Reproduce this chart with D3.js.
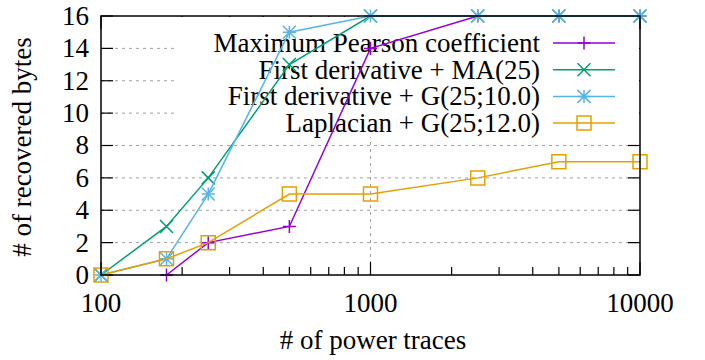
<!DOCTYPE html>
<html>
<head>
<meta charset="utf-8">
<script src="https://cdn.jsdelivr.net/npm/d3@7"></script>
<style>
  body { margin: 0; background: white; }
</style>
</head>
<body>
<svg id="chart" width="705" height="360"></svg>
<script>
const traces = [100, 175, 250, 500, 1000, 2500, 5000, 10000]
const pearson = [null, 0, 2, 3, 14, 16, 16, 16]
const firstMA = [0, 3, 6, 13, 16, 16, 16, 16]
const firstG = [0, 1, 5, 15, 16, 16, 16, 16]
const laplacian = [0, 1, 2, 5, 5, 6, 7, 7]
const seriesNames = ["Maximum Pearson coefficient", "First derivative + MA(25)", "First derivative + G(25;10.0)", "Laplacian + G(25;12.0)"]
const yTicks = [0, 2, 4, 6, 8, 10, 12, 14, 16]
const xTicks = [100, 1000, 10000]

const series = [
  {name: seriesNames[0], values: pearson, color: "#9400d3", marker: "plus"},
  {name: seriesNames[1], values: firstMA, color: "#009e73", marker: "cross"},
  {name: seriesNames[2], values: firstG, color: "#56b4e9", marker: "star"},
  {name: seriesNames[3], values: laplacian, color: "#e69f00", marker: "square"}
]

const svg = d3.select("#chart")
const mLeft = 101, mRight = 640, mTop = 16, mBottom = 275
const font = "'Liberation Serif', 'Times New Roman', serif"
const fs = "27px"

const x = d3.scaleLog().domain([100, 10000]).range([mLeft, mRight])
const y = d3.scaleLinear().domain([0, 16]).range([mBottom, mTop])

// grille
const grid = svg.append("g")
grid.selectAll("line.h")
  .data(yTicks.filter(v => v > 0 && v < 16))
  .join("line")
  .attr("x1", mLeft).attr("x2", mRight)
  .attr("y1", d => y(d)).attr("y2", d => y(d))
  .attr("stroke", "#a0a0a0").attr("stroke-width", 1).attr("stroke-dasharray", "3,4")
grid.selectAll("line.v")
  .data([1000])
  .join("line")
  .attr("x1", d => x(d)).attr("x2", d => x(d))
  .attr("y1", mTop).attr("y2", mBottom)
  .attr("stroke", "#a0a0a0").attr("stroke-width", 1).attr("stroke-dasharray", "3,4")

// graduations
const ticks = svg.append("g").attr("stroke", "black").attr("stroke-width", 1.2)
yTicks.forEach(v => {
  ticks.append("line").attr("x1", mLeft).attr("x2", mLeft + 12).attr("y1", y(v)).attr("y2", y(v))
  ticks.append("line").attr("x1", mRight - 12).attr("x2", mRight).attr("y1", y(v)).attr("y2", y(v))
})
const minor = []
for (let dec = 100; dec < 10000; dec *= 10)
  for (let k = 2; k <= 9; k++) minor.push(dec * k)
minor.forEach(v => {
  ticks.append("line").attr("x1", x(v)).attr("x2", x(v)).attr("y1", mBottom).attr("y2", mBottom - 8)
  ticks.append("line").attr("x1", x(v)).attr("x2", x(v)).attr("y1", mTop).attr("y2", mTop + 8)
})
xTicks.forEach(v => {
  ticks.append("line").attr("x1", x(v)).attr("x2", x(v)).attr("y1", mBottom).attr("y2", mBottom - 13)
  ticks.append("line").attr("x1", x(v)).attr("x2", x(v)).attr("y1", mTop).attr("y2", mTop + 13)
})

svg.append("g").selectAll("text")
  .data(yTicks)
  .join("text")
  .attr("x", 89).attr("y", d => y(d)).attr("dy", "0.33em")
  .attr("text-anchor", "end")
  .style("font-family", font).style("font-size", fs)
  .text(d => d)

svg.append("g").selectAll("text")
  .data(xTicks)
  .join("text")
  .attr("x", d => x(d)).attr("y", 312)
  .attr("text-anchor", "middle")
  .style("font-family", font).style("font-size", fs)
  .text(d => d)

svg.append("text").attr("x", 373).attr("y", 349)
  .attr("text-anchor", "middle")
  .style("font-family", font).style("font-size", fs)
  .text("# of power traces")
svg.append("text")
  .attr("transform", "translate(31," + 147 + ") rotate(-90)")
  .attr("text-anchor", "middle")
  .style("font-family", font).style("font-size", fs)
  .text("# of recovered bytes")

// marqueurs
const markerPath = (type, s) => {
  const h = s / 2
  if (type === "plus") return `M${-h},0H${h}M0,${-h}V${h}`
  if (type === "cross") return `M${-h},${-h}L${h},${h}M${-h},${h}L${h},${-h}`
  if (type === "star") return `M${-h},0H${h}M0,${-h}V${h}M${-h},${-h}L${h},${h}M${-h},${h}L${h},${-h}`
  return `M${-h},${-h}H${h}V${h}H${-h}Z`
}

// légende
const legend = svg.append("g")
legend.append("rect").attr("x", 178).attr("y", mTop + 1).attr("width", mRight - 179).attr("height", 120).attr("fill", "white")
series.forEach((s, i) => {
  const ly = 43 + i * 26.7
  legend.append("text").attr("x", 540).attr("y", ly).attr("dy", "0.33em")
    .attr("text-anchor", "end")
    .style("font-family", font).style("font-size", fs).text(s.name)
  legend.append("line").attr("x1", 553).attr("x2", 615).attr("y1", ly).attr("y2", ly)
    .attr("stroke", s.color).attr("stroke-width", 1.5)
  legend.append("path").attr("d", markerPath(s.marker, s.marker === "square" ? 14 : 13))
    .attr("transform", `translate(584,${ly})`)
    .attr("fill", "none").attr("stroke", s.color).attr("stroke-width", 1.5)
})

// courbes
const line = d3.line()
  .defined(d => d.v !== null)
  .x(d => x(d.t)).y(d => y(d.v))

series.forEach(s => {
  const pts = traces.map((t, i) => ({t: t, v: s.values[i]}))
  const g = svg.append("g")
  g.append("path").attr("d", line(pts))
    .attr("fill", "none").attr("stroke", s.color).attr("stroke-width", 1.5)
  g.selectAll("path.m")
    .data(pts.filter(d => d.v !== null))
    .join("path")
    .attr("class", "m")
    .attr("d", markerPath(s.marker, s.marker === "square" ? 14 : 13))
    .attr("transform", d => `translate(${x(d.t)},${y(d.v)})`)
    .attr("fill", "none").attr("stroke", s.color).attr("stroke-width", 1.5)
})

// cadre
svg.append("rect").attr("x", mLeft).attr("y", mTop).attr("width", mRight - mLeft).attr("height", mBottom - mTop)
  .attr("fill", "none").attr("stroke", "black").attr("stroke-width", 1.5)
</script>
</body>
</html>
